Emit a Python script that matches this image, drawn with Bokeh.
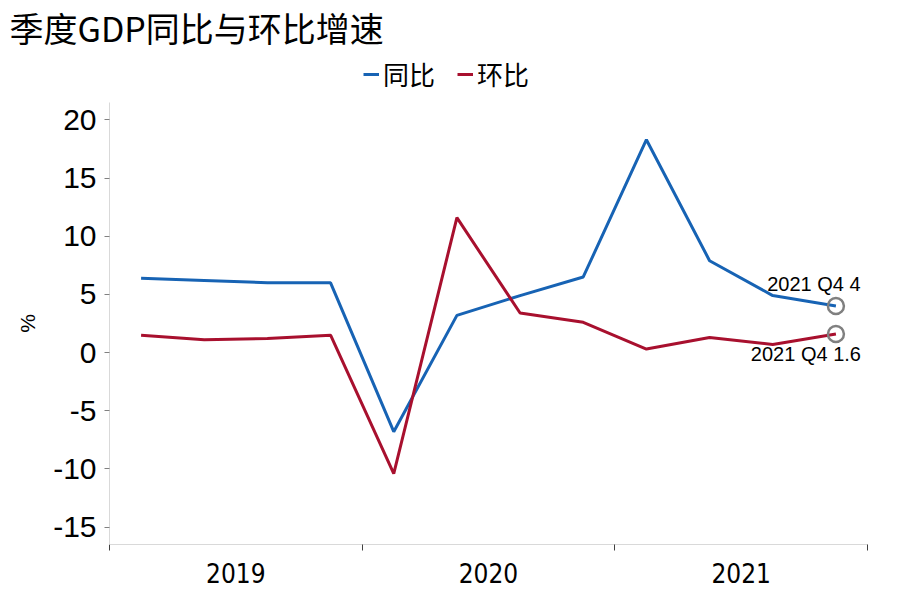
from bokeh.plotting import figure
from bokeh.layouts import column
from bokeh.models import Range1d, FixedTicker, Legend, LegendItem, Title, ColumnDataSource
from bokeh.core.properties import value
from bokeh.embed import file_html
from bokeh.resources import INLINE

years = ["2019", "2020", "2021"]
quarters = ["Q1", "Q2", "Q3", "Q4"]
yoy = [6.4, 6.2, 6.0, 6.0, -6.8, 3.2, 4.9, 6.5, 18.3, 7.9, 4.9, 4.0]
qoq = [1.5, 1.1, 1.2, 1.5, -10.4, 11.6, 3.4, 2.6, 0.3, 1.3, 0.7, 1.6]
y_ticks = [-15, -10, -5, 0, 5, 10, 15, 20]
series_names = ["同比", "环比"]
title_text = "季度GDP同比与环比增速"

BLUE = "#1763b4"
RED = "#a8102e"
GREY = "#808080"

n = len(yoy)
xs = [i + 0.5 for i in range(n)]
src = ColumnDataSource(dict(x=xs, yoy=yoy, qoq=qoq))

LEFT, RIGHT = 109, 24
HEAD_H = 102
FW, FH = 758, 442

# ---------- header (title + legend) ----------
h = figure(width=LEFT + FW + RIGHT, height=HEAD_H, output_backend="svg", toolbar_location=None,
           x_axis_location=None, y_axis_location=None, title=None,
           x_range=Range1d(100, 101), y_range=Range1d(100, 101),
           min_border_left=LEFT, min_border_right=RIGHT, min_border_top=0, min_border_bottom=0)
h.outline_line_color = None
h.grid.grid_line_color = None
h.add_layout(Title(text=title_text, text_font="Noto Sans CJK SC",
                   text_font_size="34px", text_font_style="normal", text_color="black",
                   offset=-100, standoff=0), "above")
# legend entries reuse the series (drawn outside the header's visible ranges)
l1 = h.line("x", "yoy", source=src, line_color=BLUE, line_width=3)
l2 = h.line("x", "qoq", source=src, line_color=RED, line_width=3)
legend = Legend(items=[LegendItem(label=series_names[0], renderers=[l1]),
                       LegendItem(label=series_names[1], renderers=[l2])],
                orientation="horizontal", location=(254, 10),
                label_text_font="Noto Sans CJK SC", label_text_font_size="26px",
                label_text_color="black", glyph_width=16, label_standoff=4,
                spacing=22, padding=2, margin=0, border_line_color=None,
                background_fill_alpha=0)
h.add_layout(legend, "center")

# ---------- main plot ----------
p = figure(frame_width=FW, frame_height=FH, output_backend="svg", toolbar_location=None,
           x_range=Range1d(0, n), y_range=Range1d(-16.5, 21.5),
           min_border_left=LEFT, min_border_right=RIGHT, min_border_top=0, min_border_bottom=47,
           title=None)
p.outline_line_color = None
p.grid.grid_line_color = None
p.background_fill_color = "white"
p.border_fill_color = "white"

p.line("x", "yoy", source=src, line_color=BLUE, line_width=3)
p.line("x", "qoq", source=src, line_color=RED, line_width=3)

# end markers and labels
last = n - 1
txt_top = f"{years[-1]} {quarters[-1]} {yoy[last]:g}"
txt_bot = f"{years[-1]} {quarters[-1]} {qoq[last]:g}"
end_src = ColumnDataSource(dict(x=[xs[last], xs[last]], y=[yoy[last], qoq[last]]))
p.scatter("x", "y", source=end_src, size=16, fill_color=None, line_color=GREY, line_width=2.5)
top_src = ColumnDataSource(dict(x=[xs[last]], y=[yoy[last]], t=[txt_top]))
bot_src = ColumnDataSource(dict(x=[xs[last]], y=[qoq[last]], t=[txt_bot]))
p.text("x", "y", text="t", source=top_src, text_align="center", text_baseline="bottom",
       x_offset=-22, y_offset=-11, text_font=value("Liberation Sans"), text_font_size="20px",
       text_color="black")
p.text("x", "y", text="t", source=bot_src, text_align="center", text_baseline="top",
       x_offset=-30, y_offset=9, text_font=value("Liberation Sans"), text_font_size="20px",
       text_color="black")

# y axis
ya = p.yaxis[0]
ya.ticker = FixedTicker(ticks=y_ticks)
ya.major_label_overrides = {t: str(t) for t in y_ticks}
ya.axis_line_color = "#d9d9d9"
ya.major_tick_line_color = GREY
ya.major_tick_out = 5
ya.major_tick_in = 0
ya.minor_tick_line_color = None
ya.major_label_text_font = "Liberation Sans"
ya.major_label_text_font_size = "30px"
ya.major_label_text_color = "black"
ya.major_label_standoff = 8
ya.axis_label = "%"
ya.axis_label_text_font = "Liberation Sans"
ya.axis_label_text_font_size = "21px"
ya.axis_label_text_font_style = "normal"
ya.axis_label_text_color = "black"
ya.axis_label_standoff = 11

# x axis: year labels centered, boundary ticks
xa = p.xaxis[0]
centers = [4 * k + 2 for k in range(len(years))]
bounds = [4 * k for k in range(len(years) + 1)]
xa.ticker = FixedTicker(ticks=centers, minor_ticks=bounds)
xa.major_label_overrides = {c: y for c, y in zip(centers, years)}
xa.axis_line_color = "#d9d9d9"
xa.major_tick_line_color = None
xa.minor_tick_line_color = "#404040"
xa.minor_tick_out = 6
xa.minor_tick_in = 0
xa.major_label_text_font = "DejaVu Sans Condensed, Liberation Sans"
xa.major_label_text_font_size = "26px"
xa.major_label_text_color = "black"
xa.major_label_standoff = 12

open("out.html", "w").write(file_html(column(h, p, spacing=0), INLINE))
